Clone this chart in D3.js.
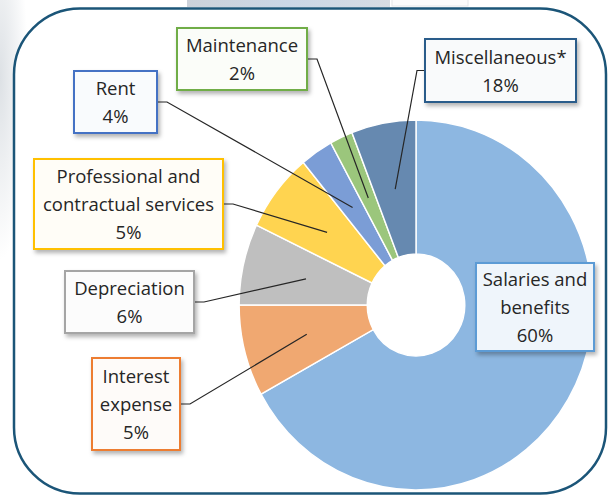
<!DOCTYPE html>
<html>
<head>
<meta charset="utf-8">
<script src="https://cdn.jsdelivr.net/npm/d3@7"></script>
<style>
    body { margin: 0; background: #fff; }
    svg { display: block; }
</style>
</head>
<body>
<script>
// slices run clockwise from 12 o'clock
let categories = ["Salaries and benefits", "Interest expense", "Depreciation",
    "Professional and contractual services", "Rent", "Maintenance", "Miscellaneous*"];
let sliceShares = [67, 8, 7.1, 6.9, 3, 2.1, 5.9];
let labelPercents = ["60%", "5%", "6%", "5%", "4%", "2%", "18%"];
let labelLines = [["Salaries and", "benefits"], ["Interest", "expense"], ["Depreciation"],
    ["Professional and", "contractual services"], ["Rent"], ["Maintenance"], ["Miscellaneous*"]];

let sliceColors = ["#8db7e1", "#f0a871", "#bfbfbf", "#ffd450", "#7b9dd6", "#9bc67c", "#6689b0"];
let borderColors = ["#5b9bd5", "#ed7d31", "#a5a5a5", "#ffc000", "#4472c4", "#70ad47", "#2a5c8a"];

let size = {width: 613, height: 496};
let center = {x: 416, y: 305};
let squeeze = 0.956;   // source picture is a bit narrower than tall
let radius = {inner: 51, outer: 185, leader: 118};

// label box placement, one per category
let boxes = [
    {x: 476, y: 263, w: 118, h: 88, side: null},
    {x: 92, y: 358, w: 88, h: 92, side: "right"},
    {x: 65, y: 271, w: 129, h: 62, side: "right"},
    {x: 34, y: 159, w: 189, h: 90, side: "right"},
    {x: 74, y: 71, w: 83, h: 62, side: "right"},
    {x: 177, y: 28, w: 130, h: 62, side: "right"},
    {x: 425, y: 39, w: 151, h: 63, side: "left"}
];

let data = categories.map((name, i) => ({
    name: name,
    value: sliceShares[i],
    percent: labelPercents[i],
    lines: labelLines[i].concat([labelPercents[i]]),
    box: boxes[i]
}));

let svg = d3.select("body").append("svg")
    .attr("width", size.width)
    .attr("height", size.height);

let defs = svg.append("defs");
defs.append("filter")
    .attr("id", "shadow")
    .attr("x", "-10%").attr("y", "-10%")
    .attr("width", "130%").attr("height", "140%")
    .append("feDropShadow")
    .attr("dx", 2).attr("dy", 3)
    .attr("stdDeviation", 2)
    .attr("flood-color", "#000")
    .attr("flood-opacity", 0.3);

let grad = defs.append("linearGradient").attr("id", "topStrip")
    .attr("x1", 0).attr("x2", 1).attr("y1", 0).attr("y2", 0);
grad.append("stop").attr("offset", "0%").attr("stop-color", "#ccd2da");
grad.append("stop").attr("offset", "50%").attr("stop-color", "#cbd7e6");
grad.append("stop").attr("offset", "100%").attr("stop-color", "#d6dce3");

let sideGrad = defs.append("radialGradient").attr("id", "sideStrip")
    .attr("cx", 0).attr("cy", 0.3).attr("r", 0.7);
sideGrad.append("stop").attr("offset", "0%").attr("stop-color", "#dde1e5");
sideGrad.append("stop").attr("offset", "100%").attr("stop-color", "#ffffff");

// bits of the surrounding page that show round the frame
svg.append("rect")
    .attr("x", 0).attr("y", 0).attr("width", 40).attr("height", 260)
    .attr("fill", "url(#sideStrip)");
svg.append("rect")
    .attr("x", 187).attr("y", 0).attr("width", 203).attr("height", 7)
    .attr("fill", "url(#topStrip)");
svg.append("rect")
    .attr("x", 392).attr("y", -2).attr("width", 76).attr("height", 8)
    .attr("fill", "#fbfbfb")
    .attr("stroke", "#e4e6e8");

svg.append("rect")
    .attr("x", 14).attr("y", 8.5)
    .attr("width", 592).attr("height", 485)
    .attr("rx", 66).attr("ry", 66)
    .attr("fill", "#fff")
    .attr("stroke", "#1b5578")
    .attr("stroke-width", 2.5);

let pie = d3.pie()
    .sort(null)
    .value(d => d.value);

let arcs = pie(data);

let arc = d3.arc()
    .innerRadius(radius.inner)
    .outerRadius(radius.outer);

let leaderArc = d3.arc()
    .innerRadius(radius.leader)
    .outerRadius(radius.leader);

svg.append("g")
    .attr("transform", `translate(${center.x},${center.y}) scale(${squeeze},1)`)
    .selectAll("path")
    .data(arcs)
    .join("path")
    .attr("d", arc)
    .attr("fill", (d, i) => sliceColors[i])
    .attr("stroke", "#fff")
    .attr("stroke-width", 1.5)
    .append("title")
    .text(d => `${d.data.name}: ${d.data.percent}`);

// leader lines: short stub off the box, then to a point inside the slice
svg.append("g")
    .attr("fill", "none")
    .attr("stroke", "#262626")
    .attr("stroke-width", 1.2)
    .selectAll("polyline")
    .data(arcs.filter(d => d.data.box.side))
    .join("polyline")
    .attr("points", d => {
        let b = d.data.box;
        let y = b.y + b.h / 2;
        let x0 = b.side === "right" ? b.x + b.w : b.x;
        let x1 = b.side === "right" ? x0 + 10 : x0 - 8;
        let c = leaderArc.centroid(d);
        let end = [center.x + c[0] * squeeze, center.y + c[1]];
        return [[x0, y], [x1, y], end].map(p => p.join(",")).join(" ");
    });

let labels = svg.append("g")
    .selectAll("g")
    .data(data)
    .join("g");

labels.append("rect")
    .attr("x", d => d.box.x)
    .attr("y", d => d.box.y)
    .attr("width", d => d.box.w)
    .attr("height", d => d.box.h)
    .attr("fill", (d, i) => d3.interpolateRgb("#ffffff", borderColors[i])(i === 0 ? 0.1 : 0.03))
    .attr("stroke", (d, i) => borderColors[i])
    .attr("stroke-width", 2)
    .attr("filter", "url(#shadow)");

labels.append("text")
    .attr("text-anchor", "middle")
    .attr("font-family", "'Open Sans', 'Noto Sans', sans-serif")
    .attr("font-size", 18.5)
    .attr("fill", "#262626")
    .each(function (d) {
        let cx = d.box.x + d.box.w / 2;
        let cy = d.box.y + d.box.h / 2;
        let first = cy - (d.lines.length - 1) * 28 / 2 + 7;
        d3.select(this).selectAll("tspan")
            .data(d.lines)
            .join("tspan")
            .attr("x", cx)
            .attr("y", (t, j) => first + j * 28)
            .text(t => t);
    });
</script>
</body>
</html>
